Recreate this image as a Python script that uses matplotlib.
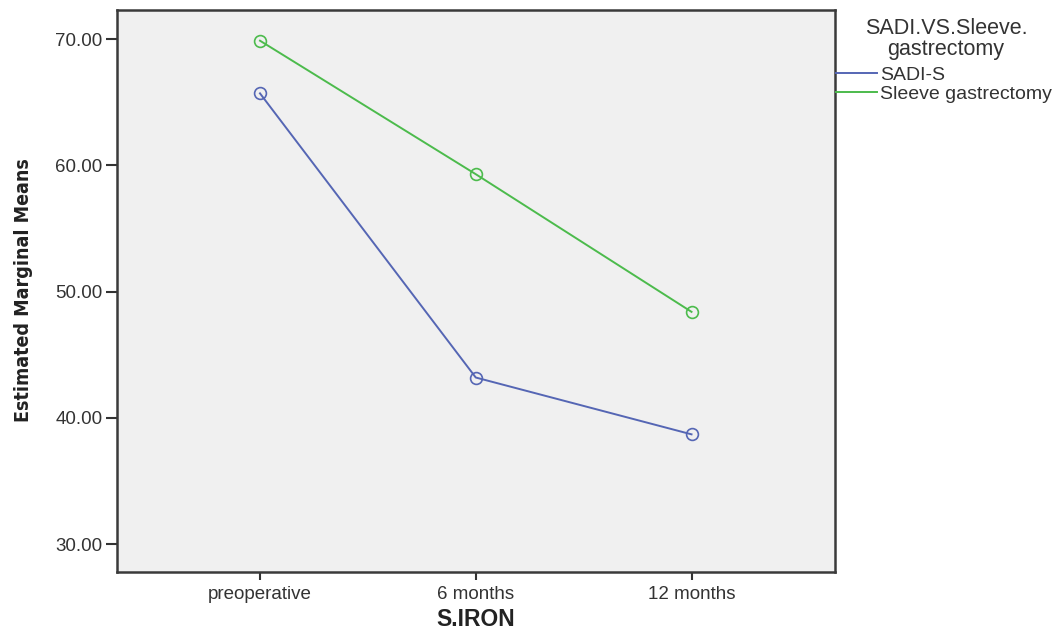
import matplotlib
matplotlib.use("Agg")
import matplotlib.pyplot as plt
from matplotlib.lines import Line2D

categories = ["preoperative", "6 months", "12 months"]
sadi_s = [65.7, 43.2, 38.7]
sleeve = [69.87, 59.3, 48.4]
series_names = ["SADI-S", "Sleeve gastrectomy"]
y_ticks = [30, 40, 50, 60, 70]
y_tick_labels = ["30.00", "40.00", "50.00", "60.00", "70.00"]

blue = "#5566b4"
green = "#4cbb4c"

plt.rcParams['font.family'] = ['Liberation Sans', 'DejaVu Sans']

fig = plt.figure(figsize=(10.57, 6.33), dpi=100)
ax = fig.add_axes([116.5/1057, 1-572/633, (835-116.5)/1057, (572-9.5)/633])
ax.set_facecolor("#f0f0f0")

x = list(range(len(categories)))
ax.plot(x, sadi_s, color=blue, lw=1.4, marker='o', ms=8.5, mfc='none', mec=blue, mew=1.2)
ax.plot(x, sleeve, color=green, lw=1.4, marker='o', ms=8.5, mfc='none', mec=green, mew=1.2)

ax.set_xlim(-0.665, 2.665)
ax.set_ylim(27.8, 72.34)
ax.set_xticks(x)
ax.set_xticklabels(categories, fontsize=13.5, color="#333333")
ax.set_yticks(y_ticks)
ax.set_yticklabels(y_tick_labels, fontsize=13.5, color="#333333")
ax.tick_params(axis='y', length=8, width=1.5, color="#333333", pad=2)
ax.tick_params(axis='x', length=6, width=1.5, color="#333333", pad=4)
for s in ax.spines.values():
    s.set_color("#3a3a3a")
    s.set_linewidth(1.8)

ax.set_xlabel("S.IRON", fontsize=16.5, fontweight='bold', color="#222222", labelpad=4)
fig.text(24/1057, 1-290/633, "Estimated Marginal Means", rotation=90,
         fontsize=14, fontweight='bold', fontstretch='condensed', color="#222222",
         family=['DejaVu Sans'],
         ha='center', va='center')

fig.text(946/1057, 1-39/633, "SADI.VS.Sleeve.\ngastrectomy", fontsize=15.5,
         color="#333333", ha='center', va='center', multialignment='center',
         linespacing=1.0)

handles = [Line2D([0], [0], color=blue, lw=1.4), Line2D([0], [0], color=green, lw=1.4)]
leg = fig.legend(handles, series_names,
                 loc='upper left', bbox_to_anchor=(836/1057, 1-66/633),
                 frameon=False, fontsize=14,
                 handlelength=2.1, handletextpad=0.15, labelspacing=0.08,
                 borderaxespad=0, borderpad=0)
for t in leg.get_texts():
    t.set_color("#333333")

fig.savefig("out.png", dpi=100)
